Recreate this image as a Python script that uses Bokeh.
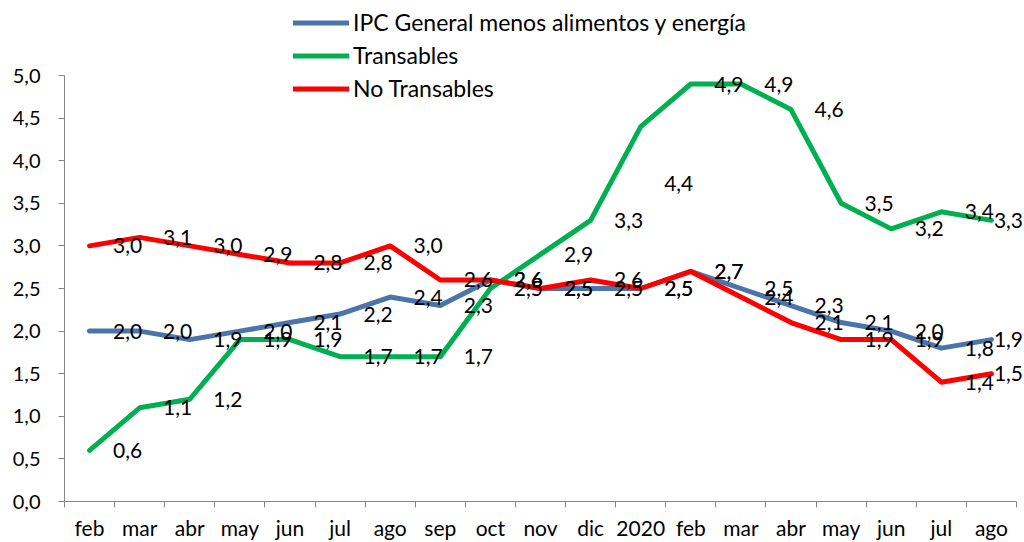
from bokeh.plotting import figure
from bokeh.models import (ColumnDataSource, FixedTicker, Legend, LegendItem, Range1d,
                          CustomJSTickFormatter)
from bokeh.embed import file_html
from bokeh.resources import INLINE
from bokeh.core.properties import value

months = ["feb", "mar", "abr", "may", "jun", "jul", "ago", "sep", "oct", "nov", "dic",
          "2020", "feb", "mar", "abr", "may", "jun", "jul", "ago"]
ipc_core = [2.0, 2.0, 1.9, 2.0, 2.1, 2.2, 2.4, 2.3, 2.6, 2.5, 2.5, 2.5, 2.7, 2.5, 2.3, 2.1, 2.0, 1.8, 1.9]
transables = [0.6, 1.1, 1.2, 1.9, 1.9, 1.7, 1.7, 1.7, 2.5, 2.9, 3.3, 4.4, 4.9, 4.9, 4.6, 3.5, 3.2, 3.4, 3.3]
no_transables = [3.0, 3.1, 3.0, 2.9, 2.8, 2.8, 3.0, 2.6, 2.6, 2.5, 2.6, 2.5, 2.7, 2.4, 2.1, 1.9, 1.9, 1.4, 1.5]
y_ticks = [0.0, 0.5, 1.0, 1.5, 2.0, 2.5, 3.0, 3.5, 4.0, 4.5, 5.0]

series_names = ["IPC General menos alimentos y energía", "Transables", "No Transables"]
series_values = [ipc_core, transables, no_transables]
series_colors = ["#4A74AA", "#00B050", "#FF0000"]

FONT = "Lato"
n = len(months)
xs = list(range(n))
Y_MAX = 5.0
# extra headroom above the axis (for the legend) and room on the right for labels
y_top = Y_MAX * 501 / 426
x_right = n - 0.5 + 8 / 50.1

p = figure(width=1024, height=542, x_range=Range1d(-0.5, x_right), y_range=Range1d(0, y_top),
           output_backend="svg", toolbar_location=None,
           min_border_left=64, min_border_right=0, min_border_top=0, min_border_bottom=41)
p.outline_line_color = None
p.xgrid.visible = False
p.ygrid.visible = False
p.background_fill_color = "white"

# x axis
xa = p.xaxis[0]
xa.bounds = (-0.5, n - 0.5)
xa.ticker = FixedTicker(ticks=xs, minor_ticks=[i - 0.5 for i in range(n + 1)])
xa.formatter = CustomJSTickFormatter(args=dict(months=months),
                                     code="return months[Math.round(tick)];")
xa.major_tick_out = 0
xa.major_tick_in = 0
xa.minor_tick_out = 6
xa.minor_tick_in = 0
xa.minor_tick_line_color = "#868686"
xa.axis_line_color = "#868686"
xa.major_label_standoff = 7
xa.major_label_text_font = FONT
xa.major_label_text_font_size = "21px"
xa.major_label_text_color = "black"

# y axis
ya = p.yaxis[0]
ya.bounds = (0, Y_MAX)
ya.ticker = FixedTicker(ticks=y_ticks, minor_ticks=[])
ya.formatter = CustomJSTickFormatter(code="return tick.toFixed(1).replace('.', ',');")
ya.major_tick_out = 6
ya.major_tick_in = 0
ya.major_tick_line_color = "#868686"
ya.axis_line_color = "#868686"
ya.major_label_standoff = 18
ya.major_label_text_font = FONT
ya.major_label_text_font_size = "20px"
ya.major_label_text_color = "black"

renderers = []
for name, vals, col in zip(series_names, series_values, series_colors):
    r = p.line(xs, vals, line_width=5, line_color=col, line_join="round", line_cap="round")
    renderers.append(r)

# data labels (placed to the right of each point, as in the original)
nudges = {("Transables", 11): 57}
lx, ly, lt, lxo, lyo = [], [], [], [], []
for name, vals in zip(series_names, series_values):
    for i, v in enumerate(vals):
        lx.append(i)
        ly.append(v)
        lt.append(f"{v:.1f}".replace(".", ","))
        lxo.append(38 if i < n - 1 else 17)
        lyo.append(nudges.get((name, i), 0))
src = ColumnDataSource(dict(x=lx, y=ly, t=lt, xo=lxo, yo=lyo))
p.text(x="x", y="y", text="t", x_offset="xo", y_offset="yo", source=src,
       text_align="center", text_baseline="middle", text_font=value(FONT),
       text_font_size="21px", text_color="black")

legend = Legend(items=[LegendItem(label=nm, renderers=[r]) for nm, r in zip(series_names, renderers)],
                location=(229, 399), orientation="vertical")
legend.margin = 0
legend.padding = 0
legend.border_line_color = None
legend.background_fill_alpha = 0
legend.glyph_width = 56
legend.glyph_height = 25
legend.label_height = 25
legend.label_standoff = 4
legend.spacing = 5
legend.label_text_font = FONT
legend.label_text_font_size = "23px"
legend.label_text_color = "black"
p.add_layout(legend, "center")

open("out.html", "w").write(file_html(p, INLINE))
